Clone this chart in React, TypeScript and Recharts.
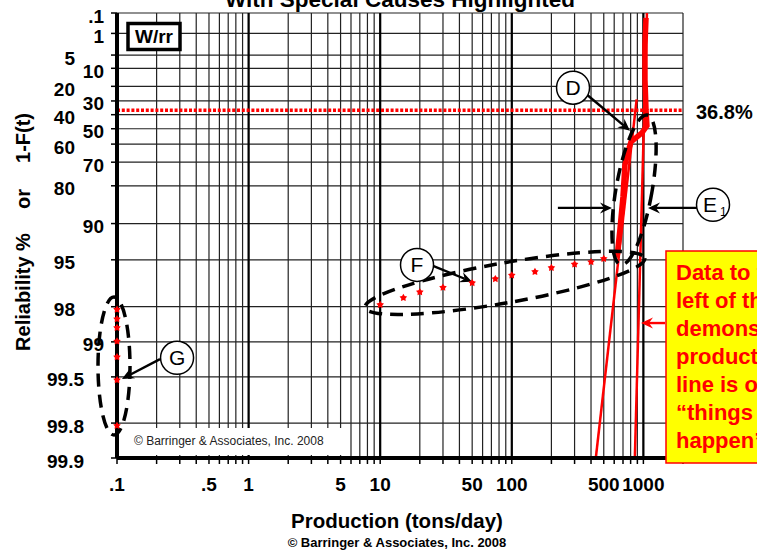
import React from "react";
import {
  ComposedChart,
  Line,
  Scatter,
  XAxis,
  YAxis,
  CartesianGrid,
  ReferenceLine,
  ReferenceDot,
} from "recharts";

// special cause "G": zero production days, plotted at 0.1 tons/day
const gProduction = [0.1, 0.1, 0.1, 0.1, 0.1, 0.1, 0.1];
const gReliability = [98.11, 98.43, 98.68, 98.99, 99.26, 99.53, 99.81];

// special cause "F": low production days
const fProduction = [10, 15, 20, 30, 50, 75, 100, 150, 200, 300, 400, 500];
const fReliability = [97.92, 97.62, 97.33, 97.09, 96.81, 96.55, 96.3, 96.03, 95.72, 95.42, 95.2, 94.89];

// the bulk of the data (dense, reads as a thick band)
const mainProduction = [630, 663, 700, 724, 771, 805, 975, 1064, 1047, 1028, 1028, 1047];
const mainReliability = [94.8, 91.1, 83.5, 71.3, 63.4, 58.6, 52.8, 47.9, 36.4, 16.0, 2.5, 0.19];

// fitted lines (end points)
const fitAProduction = [435, 889];
const fitAReliability = [99.9, 28.9];
const fitBProduction = [861, 1064];
const fitBReliability = [99.9, 0.1];

const xGrid = [
  0.1, 0.2, 0.3, 0.4, 0.5, 0.6, 0.7, 0.8, 0.9,
  1, 2, 3, 4, 5, 6, 7, 8, 9,
  10, 20, 30, 40, 50, 60, 70, 80, 90,
  100, 200, 300, 400, 500, 600, 700, 800, 900,
  1000, 2000,
];
const xLabelValues = [0.1, 0.5, 1, 5, 10, 50, 100, 500, 1000];
const xLabels = [".1", ".5", "1", "5", "10", "50", "100", "500", "1000"];
const decades = [1, 10, 100, 1000];

const yPercents = [0.1, 1, 5, 10, 20, 30, 40, 50, 60, 70, 80, 90, 95, 98, 99, 99.5, 99.8, 99.9];
const yLabels = [".1", "1", "5", "10", "20", "30", "40", "50", "60", "70", "80", "90", "95", "98", "99", "99.5", "99.8", "99.9"];
const characteristicLife = 36.8;

// annotation anchors in (production, reliability %)
const callouts = [
  { label: "D", sub: "", x: 292, r: 20.9 },
  { label: "E", sub: "1", x: 3381, r: 85.8 },
  { label: "F", sub: "", x: 19.05, r: 95.47 },
  { label: "G", sub: "", x: 0.286, r: 99.27 },
];
const arrows = [
  { from: [373, 25.6], to: [791, 51.4], red: false },
  { from: [2553, 86.6], to: [1084, 86.6], red: false },
  { from: [224, 86.6], to: [577, 86.6], red: false },
  { from: [25.2, 95.55], to: [49.9, 96.74], red: false },
  { from: [0.2122, 99.29], to: [0.1091, 99.52], red: false },
  { from: [1459, 98.55], to: [959, 98.55], red: true },
];
const rings = [
  { x: 0.1, r: 99.38, rx: 16, ry: 69, angle: 0, dx: -3 },
  { x: 88.7, r: 96.81, rx: 142, ry: 20, angle: -10, dx: 0 },
  { x: 849, r: 81.4, rx: 18, ry: 76, angle: 10, dx: 0 },
];
const boxLines = ["Data to the", "left of the line", "demonstrates", "production", "line is out of", "\u201cthings", "happen\u201d"];

const FONT = "'Liberation Sans', Arial, Helvetica, sans-serif";
const RED = "#ff0000";
const BORDER = { stroke: "#000", strokeWidth: 4 };

// Weibull probability scale
const wb = (r: number) => Math.log(-Math.log(r / 100));
const rows = (xs: number[], rs: number[]) => xs.map((x, i) => ({ x, t: wb(rs[i]) }));

const gData = rows(gProduction, gReliability);
const fData = rows(fProduction, fReliability);
const mainData = rows(mainProduction, mainReliability);
const fitAData = rows(fitAProduction, fitAReliability);
const fitBData = rows(fitBProduction, fitBReliability);
const yTicks = yPercents.map(wb);
const yDomain = [wb(99.9), wb(0.1)];

const insetLabels = new Set(["5", "20", "40", "60", "80", "95", "98"]);
const midLabels = new Set(["99.5", "99.8", "99.9"]);

const XTick = (props: any) => {
  const { x, payload } = props;
  const i = xLabelValues.findIndex((v) => Math.abs(v - payload.value) < v * 1e-6);
  if (i < 0) return <g />;
  return (
    <text x={x} y={491} textAnchor="middle" fontFamily={FONT} fontWeight="bold" fontSize={19} fill="#000">
      {xLabels[i]}
    </text>
  );
};

const YTick = (props: any) => {
  const { y, payload } = props;
  const i = yTicks.findIndex((v) => Math.abs(v - payload.value) < 1e-6);
  if (i < 0) return <g />;
  const lab = yLabels[i];
  const ax = insetLabels.has(lab) ? 75 : midLabels.has(lab) ? 84 : 104;
  return (
    <text x={ax} y={y + 9.5} textAnchor="end" fontFamily={FONT} fontWeight="bold" fontSize={19} fill="#000">
      {lab}
    </text>
  );
};

const starPath = (cx: number, cy: number, r: number) => {
  let d = "";
  for (let k = 0; k < 10; k++) {
    const rad = k % 2 === 0 ? r : r * 0.55;
    const a = -Math.PI / 2 + (k * Math.PI) / 5;
    d += (k === 0 ? "M" : "L") + (cx + rad * Math.cos(a)).toFixed(2) + " " + (cy + rad * Math.sin(a)).toFixed(2);
  }
  return d + "Z";
};
const StarDot = (p: any) => <path d={starPath(p.cx, p.cy, 4)} fill={RED} />;

const arrowShape = (color: string) => (p: any) => {
  const { x1, y1, x2, y2 } = p;
  const a = Math.atan2(y2 - y1, x2 - x1);
  const c = Math.cos(a);
  const s = Math.sin(a);
  const bx = x2 - 12 * c;
  const by = y2 - 12 * s;
  const mx = x2 - 8 * c;
  const my = y2 - 8 * s;
  const pts = [
    [x2, y2],
    [bx - 5.5 * s, by + 5.5 * c],
    [mx, my],
    [bx + 5.5 * s, by - 5.5 * c],
  ]
    .map((q) => q[0].toFixed(2) + "," + q[1].toFixed(2))
    .join(" ");
  return (
    <g>
      <line x1={x1} y1={y1} x2={mx} y2={my} stroke={color} strokeWidth={2.4} />
      <polygon points={pts} fill={color} />
    </g>
  );
};

const App = () => {
  return (
    <div style={{ position: "relative", width: 757, height: 550, overflow: "hidden", background: "#fff" }}>
      <style>{"body{margin:0}"}</style>
      <ComposedChart width={757} height={550} margin={{ top: 13, right: 74, bottom: 62, left: 57 }}>
        <CartesianGrid stroke="#222" strokeWidth={1.2} />
        <CartesianGrid horizontal={false} verticalValues={decades} stroke="#000" strokeWidth={2.2} />
        <XAxis
          dataKey="x"
          type="number"
          scale="log"
          domain={[0.1, 2000]}
          ticks={xGrid}
          interval={0}
          tick={XTick}
          tickSize={6}
          tickLine={{ stroke: "#000", strokeWidth: 1.5 }}
          axisLine={BORDER}
          height={30}
        />
        <XAxis
          xAxisId="top"
          orientation="top"
          type="number"
          scale="log"
          domain={[0.1, 2000]}
          tick={false}
          tickLine={false}
          axisLine={BORDER}
          height={0}
        />
        <YAxis
          dataKey="t"
          type="number"
          domain={yDomain}
          ticks={yTicks}
          interval={0}
          tick={YTick}
          tickSize={6}
          tickLine={{ stroke: "#000", strokeWidth: 1.5 }}
          axisLine={BORDER}
          width={60}
        />
        <YAxis
          yAxisId="right"
          orientation="right"
          type="number"
          domain={yDomain}
          tick={false}
          tickLine={false}
          axisLine={BORDER}
          width={0}
        />
        <ReferenceLine y={wb(characteristicLife)} stroke={RED} strokeWidth={3.5} strokeDasharray="3 1.8" />
        <ReferenceDot
          x={0.1}
          y={yDomain[0]}
          ifOverflow="visible"
          shape={(p: any) => (
            <g>
              <rect x={p.cx + 3} y={p.cy - 30} width={225} height={27} fill="#fff" />
              <text x={p.cx + 17} y={p.cy - 13.5} fontFamily={FONT} fontSize={12} fill="#222">
                © Barringer &amp; Associates, Inc. 2008
              </text>
            </g>
          )}
        />
        <ReferenceDot
          x={0.1}
          y={yDomain[1]}
          ifOverflow="visible"
          shape={(p: any) => (
            <g>
              <rect x={p.cx + 11} y={p.cy + 10.5} width={52} height={26} fill="#fff" stroke="#000" strokeWidth={3.5} />
              <text x={p.cx + 37} y={p.cy + 30} textAnchor="middle" fontFamily={FONT} fontWeight="bold" fontSize={19}>
                W/rr
              </text>
            </g>
          )}
        />
        <Line data={fitAData} dataKey="t" type="linear" stroke={RED} strokeWidth={2.5} dot={false} isAnimationActive={false} />
        <Line data={fitBData} dataKey="t" type="linear" stroke={RED} strokeWidth={2.5} dot={false} isAnimationActive={false} />
        <Line data={mainData} dataKey="t" type="linear" stroke={RED} strokeWidth={5.5} dot={false} isAnimationActive={false} />
        <Scatter data={fData} fill={RED} shape={StarDot} isAnimationActive={false} zIndex={700} />
        <Scatter data={gData} fill={RED} shape={StarDot} isAnimationActive={false} zIndex={700} />
        {rings.map((g, i) => (
          <ReferenceDot
            key={"ring" + i}
            x={g.x}
            y={wb(g.r)}
            ifOverflow="visible"
            shape={(p: any) => (
              <ellipse
                cx={p.cx + g.dx}
                cy={p.cy}
                rx={g.rx}
                ry={g.ry}
                transform={`rotate(${g.angle} ${p.cx + g.dx} ${p.cy})`}
                fill="none"
                stroke="#000"
                strokeWidth={3.5}
                strokeDasharray="13 8"
              />
            )}
          />
        ))}
        {arrows.map((a, i) => (
          <ReferenceLine
            key={"arr" + i}
            ifOverflow="visible"
            segment={[
              { x: a.from[0], y: wb(a.from[1]) },
              { x: a.to[0], y: wb(a.to[1]) },
            ]}
            shape={arrowShape(a.red ? RED : "#000")}
          />
        ))}
        {callouts.map((c) => (
          <ReferenceDot
            key={"call" + c.label}
            x={c.x}
            y={wb(c.r)}
            ifOverflow="visible"
            shape={(p: any) => (
              <g>
                <circle cx={p.cx} cy={p.cy} r={16.5} fill="#fff" stroke="#000" strokeWidth={1.5} />
                <text
                  x={c.sub ? p.cx - 3 : p.cx}
                  y={p.cy + 7.5}
                  textAnchor="middle"
                  fontFamily={FONT}
                  fontSize={21}
                  fill="#000"
                >
                  {c.label}
                </text>
                {c.sub ? (
                  <text x={p.cx + 7} y={p.cy + 11} fontFamily={FONT} fontSize={12} fill="#000">
                    {c.sub}
                  </text>
                ) : null}
              </g>
            )}
          />
        ))}
      </ComposedChart>
      <svg
        width={757}
        height={550}
        style={{ position: "absolute", left: 0, top: 0, pointerEvents: "none" }}
        fontFamily={FONT}
      >
        <text x={400} y={7} textAnchor="middle" fontWeight="bold" fontSize={22.5}>
          With Special Causes Highlighted
        </text>
        <text x={696} y={118.5} fontWeight="bold" fontSize={20}>
          36.8%
        </text>
        <text transform="translate(30 292) rotate(-90)" textAnchor="middle" fontWeight="bold" fontSize={20}>
          Reliability %
        </text>
        <text transform="translate(30 199) rotate(-90)" textAnchor="middle" fontWeight="bold" fontSize={20}>
          or
        </text>
        <text transform="translate(30 138) rotate(-90)" textAnchor="middle" fontWeight="bold" fontSize={20}>
          1-F(t)
        </text>
        <text x={397} y={528} textAnchor="middle" fontWeight="bold" fontSize={20.5}>
          Production (tons/day)
        </text>
        <text x={397} y={546.5} textAnchor="middle" fontWeight="bold" fontSize={13}>
          © Barringer &amp; Associates, Inc. 2008
        </text>
        <rect x={666} y={251} width={110} height={212} fill="#ffff00" stroke={RED} strokeWidth={1.5} />
        {boxLines.map((l, i) => (
          <text key={l} x={676} y={279.5 + i * 28} fontWeight="bold" fontSize={22} fill={RED}>
            {l}
          </text>
        ))}
      </svg>
    </div>
  );
};

export default App;
